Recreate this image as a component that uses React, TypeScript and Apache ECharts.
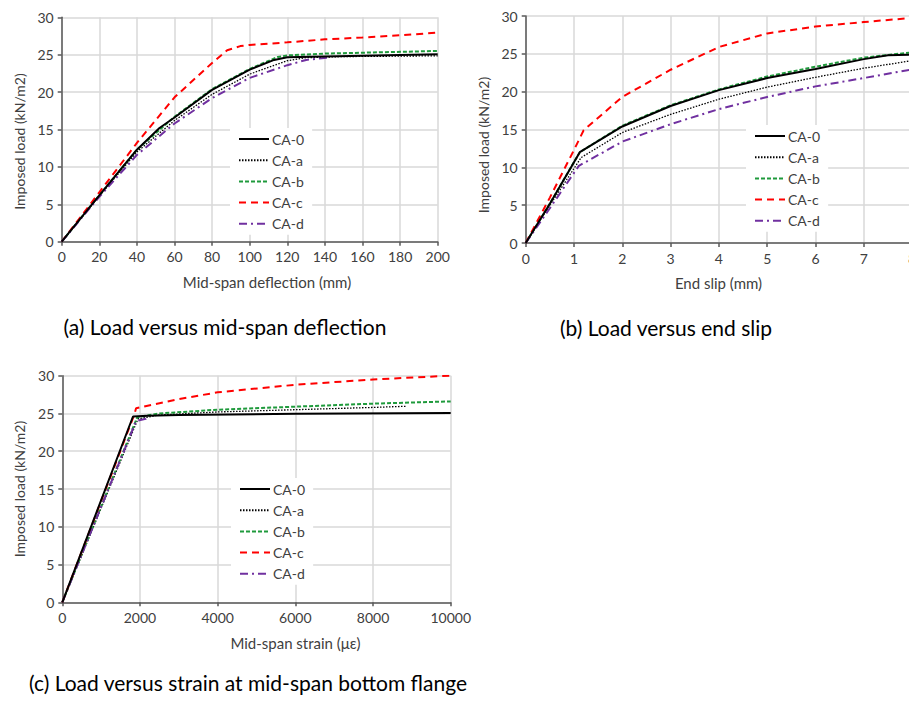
import React, { useEffect, useRef } from "react";
import * as echarts from "echarts";

const seriesNames = ["CA-0", "CA-a", "CA-b", "CA-c", "CA-d"];

// Panel (a): load vs mid-span deflection (mm, kN/m2)
const defl0: number[][] = [[0,0],[20,6.2],[40,12.3],[52,15.2],[60,16.6],[80,20.3],[100,23.0],[113,24.3],[120,24.65],[140,24.75],[200,25.05]];
const deflA: number[][] = [[0,0],[20,6.1],[40,12.0],[60,16.2],[80,19.7],[100,22.4],[120,24.2],[130,24.6],[150,24.75],[200,24.85]];
const deflB: number[][] = [[0,0],[20,6.2],[40,12.3],[60,16.7],[80,20.4],[100,23.1],[115,24.7],[120,24.9],[140,25.15],[200,25.5]];
const deflC: number[][] = [[0,0],[20,6.6],[40,13.2],[60,19.3],[80,23.9],[88,25.6],[95,26.15],[100,26.3],[120,26.65],[140,27.05],[160,27.3],[180,27.6],[200,27.95]];
const deflD: number[][] = [[0,0],[20,6.0],[40,11.6],[60,15.8],[80,19.2],[100,21.9],[120,23.6],[130,24.3],[143,24.65]];

// Panel (b): load vs end slip (mm)
const slip0: number[][] = [[0,0],[0.5,5.2],[1.12,12.0],[2,15.4],[3,18.1],[4,20.2],[5,21.8],[6,23.0],[7,24.3],[7.5,24.8],[8,24.9]];
const slipA: number[][] = [[0,0],[0.5,5.0],[1.15,11.3],[2,14.6],[3,17.0],[4,19.0],[5,20.6],[6,21.9],[7,23.1],[8,24.1]];
const slipB: number[][] = [[0,0],[0.5,5.2],[1.12,12.0],[2,15.5],[3,18.2],[4,20.3],[5,22.0],[6,23.3],[7,24.5],[8,25.2]];
const slipC: number[][] = [[0,0],[0.25,3.0],[0.5,6.0],[1,12.3],[1.2,14.9],[2,19.3],[3,22.9],[4,25.9],[5,27.7],[6,28.6],[7,29.2],[8,29.75]];
const slipD: number[][] = [[0,0],[0.5,4.6],[1.1,10.2],[2,13.4],[3,15.7],[4,17.7],[5,19.3],[6,20.7],[7,21.8],[8,22.95]];

// Panel (c): load vs mid-span strain (microstrain)
const strain0: number[][] = [[0,0],[1820,24.6],[2200,24.7],[3000,24.8],[6000,24.95],[10000,25.05]];
const strainA: number[][] = [[0,0],[1950,24.3],[2500,24.8],[4000,25.2],[6000,25.5],[8000,25.8],[8840,25.95]];
const strainB: number[][] = [[0,0],[1930,24.5],[2500,25.0],[4000,25.5],[6000,25.9],[8000,26.3],[10000,26.6]];
const strainC: number[][] = [[0,0],[1850,24.8],[1900,25.7],[3000,26.9],[4000,27.8],[6000,28.8],[8000,29.5],[10000,30.0]];
const strainD: number[][] = [[0,0],[1900,24.0],[2150,24.3],[2200,24.6]];

const yTicks = [0, 5, 10, 15, 20, 25, 30];
const yName = "Imposed load (kN/m2)";
const xNames = ["Mid-span deflection (mm)", "End slip (mm)", "Mid-span strain (με)"];
const titles = [
  "(a) Load versus mid-span deflection",
  "(b) Load versus end slip",
  "(c) Load versus strain at mid-span bottom flange",
];

const FONT = "Lato";
const styles: any = {
  "CA-0": { color: "#000000", width: 2, type: "solid" },
  "CA-a": { color: "#000000", width: 1.3, type: [1.5, 1.5] },
  "CA-b": { color: "#1f9a3c", width: 2, type: [4, 2] },
  "CA-c": { color: "#ff0000", width: 2, type: [7, 5] },
  "CA-d": { color: "#7030a0", width: 2, type: [8, 4, 2, 4] },
};

function mk(name: string, data: number[][], idx: number) {
  const s = styles[name];
  return {
    type: "line",
    name,
    data,
    xAxisIndex: idx,
    yAxisIndex: idx,
    symbol: "none",
    smooth: false,
    clip: true,
    lineStyle: { color: s.color, width: s.width, type: s.type },
    itemStyle: { color: s.color },
    z: name === "CA-0" ? 5 : 3,
  };
}

const axisLabel = { color: "#404040", fontFamily: FONT, fontSize: 14, margin: 8, formatter: (v: number) => String(v) };
const split = { show: true, lineStyle: { color: "#d9d9d9", width: 1.5 } };

function xAx(idx: number, max: number, interval: number) {
  return {
    type: "value",
    gridIndex: idx,
    min: 0,
    max,
    interval,
    axisLine: { show: true, lineStyle: { color: "#595959", width: 1.5 } },
    axisTick: { show: true, length: 4, lineStyle: { color: "#595959", width: 1.5 } },
    axisLabel,
    splitLine: split,
  };
}

function yAx(idx: number) {
  return {
    type: "value",
    gridIndex: idx,
    min: 0,
    max: 30,
    interval: 5,
    axisLine: { show: true, lineStyle: { color: "#595959", width: 1.5 } },
    axisTick: { show: true, length: 4, lineStyle: { color: "#595959", width: 1.5 } },
    axisLabel: { ...axisLabel, formatter: (v: number) => (yTicks.includes(v) ? String(v) : "") },
    splitLine: split,
  };
}

function legend(left: number, top: number) {
  return {
    data: seriesNames,
    orient: "vertical",
    left,
    top,
    itemWidth: 30,
    itemHeight: 12,
    itemGap: 7.2,
    backgroundColor: "#ffffff",
    padding: [4, 8, 4, 8],
    selectedMode: false,
    itemStyle: { opacity: 0 },
    textStyle: { color: "#404040", fontFamily: FONT, fontSize: 14, padding: [0, 0, 0, -2] },
  };
}

function txt(text: string, x: number, y: number, size: number, color: string, rot = 0) {
  return {
    type: "text",
    x,
    y,
    rotation: rot,
    style: { text, align: "center", verticalAlign: "middle", fill: color, font: `${size}px ${FONT}` },
  };
}

export default function App() {
  const ref = useRef<HTMLDivElement>(null);
  useEffect(() => {
    const chart = echarts.init(ref.current!, undefined, { renderer: "svg" });
    chart.setOption({
      animation: false,
      backgroundColor: "#ffffff",
      grid: [
        { left: 61.7, top: 17.3, width: 376, height: 224.4, outerBoundsMode: "none", containLabel: false },
        { left: 525.7, top: 16, width: 386.4, height: 227, outerBoundsMode: "none", containLabel: false },
        { left: 62.3, top: 375.7, width: 388.4, height: 226.6, outerBoundsMode: "none", containLabel: false },
      ],
      xAxis: [xAx(0, 200, 20), xAx(1, 8, 1), xAx(2, 10000, 2000)],
      yAxis: [yAx(0), yAx(1), yAx(2)],
      legend: [legend(230, 128), legend(746, 125), legend(231, 478)],
      series: [
        mk("CA-0", defl0, 0), mk("CA-a", deflA, 0), mk("CA-b", deflB, 0), mk("CA-c", deflC, 0), mk("CA-d", deflD, 0),
        mk("CA-0", slip0, 1), mk("CA-a", slipA, 1), mk("CA-b", slipB, 1), mk("CA-c", slipC, 1), mk("CA-d", slipD, 1),
        mk("CA-0", strain0, 2), mk("CA-a", strainA, 2), mk("CA-b", strainB, 2), mk("CA-c", strainC, 2), mk("CA-d", strainD, 2),
      ],
      graphic: [
        txt(xNames[0], 267, 282, 15, "#404040"),
        txt(xNames[1], 718.5, 282.5, 15, "#404040"),
        txt(xNames[2], 295.5, 643, 15, "#404040"),
        txt(yName, 19, 141.5, 14, "#404040", Math.PI / 2),
        txt(yName, 483, 145, 14, "#404040", Math.PI / 2),
        txt(yName, 19, 489, 14, "#404040", Math.PI / 2),
        txt(titles[0], 225, 326, 21, "#000"),
        txt(titles[1], 666, 327, 21, "#000"),
        txt(titles[2], 248, 682, 21, "#000"),
      ],
    });
    return () => chart.dispose();
  }, []);
  return (
    <div
      ref={ref}
      style={{ position: "absolute", left: 0, top: 0, width: 909, height: 701, overflow: "hidden" }}
    />
  );
}
